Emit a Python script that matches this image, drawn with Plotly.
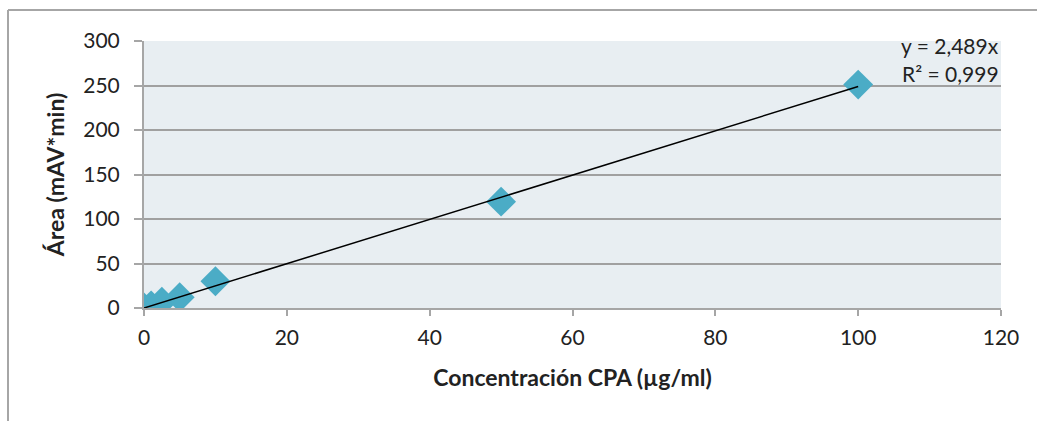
import plotly.graph_objects as go

conc = [0, 1, 2.5, 5, 10, 50, 100]
area = [0.5, 3, 7, 12, 30, 119.5, 251]
slope = 2.489
trend_x = [0, 100]
trend_y = [slope * v for v in trend_x]
x_ticks = [0, 20, 40, 60, 80, 100, 120]
y_ticks = [0, 50, 100, 150, 200, 250, 300]

FONT = "Lato"

fig = go.Figure()
fig.add_trace(go.Scatter(
    x=conc, y=area, mode="markers",
    marker=dict(symbol="diamond", size=23, color="#4BACC6"),
    showlegend=False, hoverinfo="skip"))
fig.add_trace(go.Scatter(
    x=trend_x, y=trend_y, mode="lines",
    line=dict(color="#000000", width=1.5),
    showlegend=False, hoverinfo="skip"))

fig.update_layout(
    width=1037, height=421,
    margin=dict(l=144, r=36, t=41, b=113),
    paper_bgcolor="white",
    plot_bgcolor="#E8EEF2",
    font=dict(family=FONT, size=21, color="#222222"),
    xaxis=dict(range=[0, 120], tickvals=x_ticks, showgrid=False,
               showline=True, linecolor="#A6A6A6", linewidth=2,
               ticks="outside", ticklen=6, tickcolor="#A6A6A6", tickwidth=1.5,
               zeroline=False, ticklabelstandoff=4,
               title=dict(text="<b>Concentración CPA (µg/ml)</b>",
                          font=dict(family=FONT, size=23), standoff=22)),
    yaxis=dict(range=[0, 300], tickvals=y_ticks, showgrid=True,
               gridcolor="#A0A0A0", gridwidth=1.5,
               showline=True, linecolor="#A6A6A6", linewidth=2,
               ticks="outside", ticklen=8, tickcolor="#A6A6A6", tickwidth=1.5,
               zeroline=False, ticklabelstandoff=10,
               title=dict(text="<b>Área (mAV*min)</b>",
                          font=dict(family=FONT, size=23), standoff=12)),
)

fig.add_annotation(xref="x", yref="y", x=120, y=295.5, text="y = 2,489x",
                   showarrow=False, xanchor="right", yanchor="middle",
                   font=dict(family=FONT, size=21, color="#222222"))
fig.add_annotation(xref="x", yref="y", x=120, y=264, text="R² = 0,999",
                   showarrow=False, xanchor="right", yanchor="middle",
                   font=dict(family=FONT, size=21, color="#222222"))

# outer chart frame (top and left visible)
fig.add_shape(type="line", xref="paper", yref="paper",
              x0=-136/857, x1=1.05, y0=1 + 31/267, y1=1 + 31/267,
              line=dict(color="#A6A6A6", width=2))
fig.add_shape(type="line", xref="paper", yref="paper",
              x0=-136/857, x1=-136/857, y0=-113/267, y1=1 + 31/267,
              line=dict(color="#A6A6A6", width=2))

fig.write_html("out.html")
